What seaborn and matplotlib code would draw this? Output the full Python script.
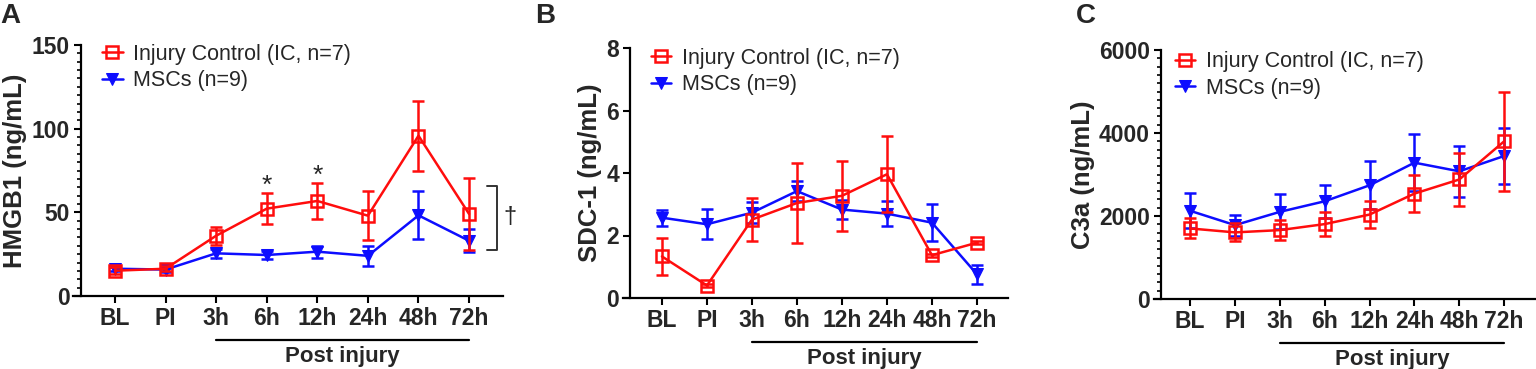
import numpy as np
import pandas as pd
import seaborn as sns
import matplotlib.pyplot as plt
from matplotlib.ticker import MultipleLocator
import matplotlib.transforms as mtransforms

sns.set_style("ticks")
plt.rcParams['font.family'] = ['Liberation Sans', 'DejaVu Sans']

# data (mean +/- SEM)
timepoints = ["BL", "PI", "3h", "6h", "12h", "24h", "48h", "72h"]

hmgb1_ic = [15.1, 16.3, 36.0, 52.2, 56.8, 48.0, 95.8, 49.0]
hmgb1_ic_err = [2.0, 1.5, 5.3, 9.3, 10.5, 14.6, 21.0, 21.4]
hmgb1_msc = [16.3, 15.8, 25.5, 24.5, 26.5, 24.0, 48.2, 33.0]
hmgb1_msc_err = [1.2, 1.2, 2.5, 2.5, 3.5, 6.0, 14.3, 7.0]

sdc1_ic = [1.33, 0.40, 2.51, 3.04, 3.27, 3.96, 1.37, 1.77]
sdc1_ic_err = [0.60, 0.05, 0.68, 1.28, 1.13, 1.22, 0.05, 0.05]
sdc1_msc = [2.57, 2.36, 2.73, 3.42, 2.83, 2.70, 2.41, 0.76]
sdc1_msc_err = [0.26, 0.48, 0.34, 0.31, 0.30, 0.40, 0.60, 0.30]

c3a_ic = [1700, 1605, 1660, 1805, 2035, 2540, 2880, 3800]
c3a_ic_err = [240, 215, 240, 280, 320, 450, 650, 1200]
c3a_msc = [2125, 1780, 2100, 2355, 2740, 3285, 3077, 3446]
c3a_msc_err = [420, 255, 420, 400, 575, 680, 615, 680]

RED = "#ff0d0d"
BLUE = "#0d0dff"

fig = plt.figure(figsize=(15.36, 3.69), dpi=100)


def panel(rect, xlim, ic, ic_err, msc, msc_err, ymax, ystep, minor, ylabel, leg_x, leg_y):
    ax = fig.add_axes(rect)
    x = np.arange(len(timepoints))
    # MSCs
    ax.errorbar(x, msc, yerr=msc_err, fmt="none", ecolor=BLUE, elinewidth=1.8,
                capsize=4, capthick=1.8, zorder=2)
    sns.lineplot(x=x, y=msc, ax=ax, color=BLUE, lw=1.8, marker="v", markersize=8,
                 markerfacecolor=BLUE, markeredgecolor=BLUE, label="MSCs (n=9)", zorder=3)
    # injury control
    ax.errorbar(x, ic, yerr=ic_err, fmt="none", ecolor=RED, elinewidth=1.8,
                capsize=4, capthick=1.8, zorder=4)
    sns.lineplot(x=x, y=ic, ax=ax, color=RED, lw=1.8, marker="s", markersize=8.5,
                 markerfacecolor="none", markeredgecolor=RED, markeredgewidth=1.8,
                 label="Injury Control (IC, n=7)", zorder=5)

    ax.set_xlim(*xlim)
    ax.set_ylim(0, ymax)
    ax.set_xticks(x)
    ax.set_xticklabels(timepoints, fontweight="bold", fontsize=16.5)
    ax.yaxis.set_major_locator(MultipleLocator(ystep))
    if minor:
        ax.yaxis.set_minor_locator(MultipleLocator(minor))
    for lab in ax.get_yticklabels():
        lab.set_fontweight("bold")
        lab.set_fontsize(16.5)
    ax.tick_params(axis="both", which="major", length=5, width=1.5, pad=3, color="black")
    ax.tick_params(axis="y", which="minor", length=3, width=1.2, color="black")
    ax.set_xlabel("")
    ax.set_ylabel(ylabel, fontsize=18.5, fontweight="bold", labelpad=3)
    sns.despine(ax=ax)
    for s in ["left", "bottom"]:
        ax.spines[s].set_linewidth(1.6)
        ax.spines[s].set_color("black")
    ax.spines["bottom"].set_bounds(xlim[0] - 0.15, xlim[1])

    h, l = ax.get_legend_handles_labels()
    ax.legend(h[::-1], l[::-1], loc="upper left", bbox_to_anchor=(leg_x, leg_y),
              frameon=False, fontsize=15.5, handlelength=0.95, handletextpad=0.5,
              labelspacing=0.25, borderpad=0, borderaxespad=0)

    # "Post injury" bar under the time axis
    tr = mtransforms.blended_transform_factory(ax.transData, ax.transAxes)
    ax.plot([2, 7], [-0.176, -0.176], color="black", lw=1.6, transform=tr, clip_on=False)
    ax.text(4.5, -0.242, "Post injury", transform=tr, ha="center", va="center",
            fontsize=16, fontweight="bold")
    return ax


axA = panel([81 / 1536, 1 - 296 / 369, 422 / 1536, 251 / 369], (-0.67, 7.67),
            hmgb1_ic, hmgb1_ic_err, hmgb1_msc, hmgb1_msc_err, 150, 50, 5,
            "HMGB1 (ng/mL)", 0.05, 1.005)
axB = panel([630 / 1536, 1 - 298 / 369, 378 / 1536, 250 / 369], (-0.71, 7.69),
            sdc1_ic, sdc1_ic_err, sdc1_msc, sdc1_msc_err, 8, 2, None,
            "SDC-1 (ng/mL)", 0.055, 1.0)
axC = panel([1161 / 1536, 1 - 299 / 369, 375 / 1536, 249 / 369], (-0.65, 7.71),
            c3a_ic, c3a_ic_err, c3a_msc, c3a_msc_err, 6000, 2000, 200,
            "C3a (ng/mL)", 0.037, 0.995)

# significance marks on panel A
axA.text(3, 66, "*", ha="center", va="center", fontsize=19)
axA.text(4, 72, "*", ha="center", va="center", fontsize=19)
axA.plot([7.36, 7.55, 7.55, 7.36], [66, 66, 27.5, 27.5], color="#333333", lw=1.4, clip_on=False)
axA.text(7.8, 47, "\u2020", ha="center", va="center", fontsize=17, clip_on=False)

for lbl, xp in [("A", 0.0), ("B", 535 / 1536), ("C", 1076 / 1536)]:
    fig.text(xp, 1 - 3 / 369, lbl, ha="left", va="top", fontsize=20, fontweight="bold")

fig.savefig("out.png", dpi=100)
